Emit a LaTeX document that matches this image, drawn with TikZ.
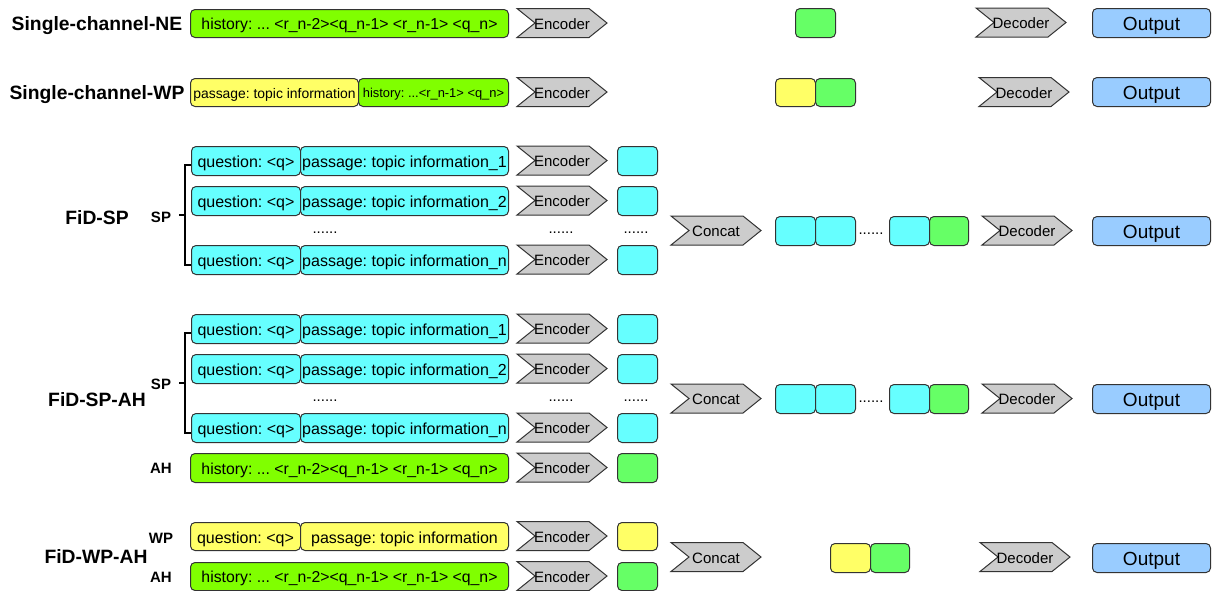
\documentclass[tikz,border=0pt]{standalone}
\usepackage{fontspec}
\setmainfont{Liberation Sans}
\frenchspacing
\definecolor{strk}{HTML}{333333}
\definecolor{gbarc}{HTML}{80FF00}
\definecolor{gsqc}{HTML}{66FF66}
\definecolor{cyanc}{HTML}{66FFFF}
\definecolor{yelc}{HTML}{FFFF66}
\definecolor{greyc}{HTML}{CCCCCC}
\definecolor{bluec}{HTML}{99CCFF}
\newcommand\fs[1]{\fontsize{#1}{#1}\selectfont}
\newcommand\bx[7]{\node[bx,#2,minimum width=#5pt,minimum height=#6pt] (#1) at (#3,#4) {#7};}
\newcommand\chev[4]{%
  \draw[chv] (#2,#3-14.5) -- (#2+72,#3-14.5) -- (#2+90,#3) -- (#2+72,#3+14.5) -- (#2,#3+14.5) -- (#2+18,#3) -- cycle;
  \node[chvt] (#1) at (#2+45,#3) {#4};}
\begin{document}
\begin{tikzpicture}[x=1pt,y=-1pt,
  tf/.style={font=\fs{#1}, text height={#1pt}, text depth={0.18*#1pt}},
  tb/.style={font=\bfseries\fs{#1}, text height={#1pt}, text depth={0.18*#1pt}},
  bx/.style={draw=strk, line width=1pt, rounded corners=4.5pt, inner sep=0pt, anchor=north west},
  gbar/.style={fill=gbarc, tf=15.8},
  gsq/.style={fill=gsqc},
  cy/.style={fill=cyanc, tf=16},
  yel/.style={fill=yelc, tf=16},
  outb/.style={fill=bluec, tf=19},
  chv/.style={draw=strk, fill=greyc, line width=1pt},
  chvt/.style={tf=15, inner sep=0pt},
  lab/.style={tb=19.3, inner sep=0pt},
  sub/.style={tb=15, inner sep=0pt},
  dots/.style={font=\fs{15}, inner sep=0pt},
  brk/.style={draw=black, line width=1.3pt}]
\useasboundingbox (0,0) rectangle (1212,590);

% ---------- Single-channel-NE ----------
\node[lab] (ne-lab) at (97,23) {Single-channel-NE};
\bx{ne-hist}{gbar}{190}{9}{318}{28}{history: ... <r\_n-2><q\_n-1> <r\_n-1> <q\_n>}
\chev{ne-enc}{517}{23}{Encoder}
\bx{ne-sq}{gsq}{795}{8}{40}{29}{}
\chev{ne-dec}{976}{22.5}{Decoder}
\bx{ne-out}{outb}{1092}{8}{118}{29}{Output}

% ---------- Single-channel-WP ----------
\node[lab] (wp-lab) at (97,92) {Single-channel-WP};
\bx{wp-pas}{yel,tf=13.9}{190}{78}{168}{28}{passage: topic information}
\bx{wp-hist}{gbar,tf=12.9}{358}{78}{150}{28}{history: ...<r\_n-1> <q\_n>}
\chev{wp-enc}{517}{92}{Encoder}
\bx{wp-sq1}{yel}{775}{78}{40}{28}{}
\bx{wp-sq2}{gsq}{815}{78}{40}{28}{}
\chev{wp-dec}{979}{92}{Decoder}
\bx{wp-out}{outb}{1092}{77}{118}{29}{Output}

% ---------- FiD-SP ----------
\node[lab] (sp-lab) at (97,217) {FiD-SP};
\node[sub] (sp-sp) at (161,216) {SP};
\draw[brk] (192,165) -- (185,165) -- (185,265) -- (192,265);
\draw[brk] (179,215) -- (185,215);
\bx{sp-q1}{cy}{191}{146}{109}{29}{question: <q>}
\bx{sp-p1}{cy}{300}{146}{208}{29}{passage: topic information\_1}
\bx{sp-q2}{cy}{191}{186}{109}{29}{question: <q>}
\bx{sp-p2}{cy}{300}{186}{208}{29}{passage: topic information\_2}
\bx{sp-qn}{cy}{191}{245}{109}{29}{question: <q>}
\bx{sp-pn}{cy}{300}{245}{208}{29}{passage: topic information\_n}
\node[dots] (sp-d1) at (325,233) {......};
\node[dots] (sp-d2) at (561,233) {......};
\node[dots] (sp-d3) at (636,233) {......};
\chev{sp-e1}{517}{160.5}{Encoder}
\chev{sp-e2}{517}{200.5}{Encoder}
\chev{sp-en}{517}{259.5}{Encoder}
\bx{sp-s1}{cy}{617}{146}{40}{29}{}
\bx{sp-s2}{cy}{617}{186}{40}{29}{}
\bx{sp-sn}{cy}{617}{245}{40}{29}{}
\chev{sp-cat}{671}{230.5}{Concat}
\bx{sp-c1}{cy}{775}{216}{40}{29}{}
\bx{sp-c2}{cy}{815}{216}{40}{29}{}
\node[dots] (sp-d4) at (871,234) {......};
\bx{sp-c3}{cy}{889}{216}{40}{29}{}
\bx{sp-c4}{gsq}{929}{216}{39}{29}{}
\chev{sp-dec}{982}{230.5}{Decoder}
\bx{sp-out}{outb}{1092}{216}{118}{29}{Output}

% ---------- FiD-SP-AH ----------
\node[lab] (sa-lab) at (97,399) {FiD-SP-AH};
\node[sub] (sa-sp) at (161,383) {SP};
\node[sub] (sa-ah) at (161,467) {AH};
\draw[brk] (192,333) -- (185,333) -- (185,433) -- (192,433);
\draw[brk] (179,383) -- (185,383);
\bx{sa-q1}{cy}{191}{314}{109}{29}{question: <q>}
\bx{sa-p1}{cy}{300}{314}{208}{29}{passage: topic information\_1}
\bx{sa-q2}{cy}{191}{354}{109}{29}{question: <q>}
\bx{sa-p2}{cy}{300}{354}{208}{29}{passage: topic information\_2}
\bx{sa-qn}{cy}{191}{413}{109}{29}{question: <q>}
\bx{sa-pn}{cy}{300}{413}{208}{29}{passage: topic information\_n}
\bx{sa-hist}{gbar}{190}{453}{318}{29}{history: ... <r\_n-2><q\_n-1> <r\_n-1> <q\_n>}
\node[dots] (sa-d1) at (325,401) {......};
\node[dots] (sa-d2) at (561,401) {......};
\node[dots] (sa-d3) at (636,401) {......};
\chev{sa-e1}{517}{328.5}{Encoder}
\chev{sa-e2}{517}{368.5}{Encoder}
\chev{sa-en}{517}{427.5}{Encoder}
\chev{sa-eh}{517}{467.5}{Encoder}
\bx{sa-s1}{cy}{617}{314}{40}{29}{}
\bx{sa-s2}{cy}{617}{354}{40}{29}{}
\bx{sa-sn}{cy}{617}{413}{40}{29}{}
\bx{sa-sh}{gsq}{617}{453}{40}{29}{}
\chev{sa-cat}{671}{398.5}{Concat}
\bx{sa-c1}{cy}{775}{384}{40}{29}{}
\bx{sa-c2}{cy}{815}{384}{40}{29}{}
\node[dots] (sa-d4) at (871,402) {......};
\bx{sa-c3}{cy}{889}{384}{40}{29}{}
\bx{sa-c4}{gsq}{929}{384}{39}{29}{}
\chev{sa-dec}{982}{398.5}{Decoder}
\bx{sa-out}{outb}{1092}{384}{118}{29}{Output}

% ---------- FiD-WP-AH ----------
\node[lab] (wa-lab) at (96,556) {FiD-WP-AH};
\node[sub] (wa-wp) at (161,537) {WP};
\node[sub] (wa-ah) at (161,576) {AH};
\bx{wa-q}{yel}{190}{522}{110}{28}{question: <q>}
\bx{wa-p}{yel}{300}{522}{208}{28}{passage: topic information}
\bx{wa-hist}{gbar}{190}{562}{318}{28}{history: ... <r\_n-2><q\_n-1> <r\_n-1> <q\_n>}
\chev{wa-e1}{517}{536}{Encoder}
\chev{wa-e2}{517}{576}{Encoder}
\bx{wa-s1}{yel}{617}{522}{40}{28}{}
\bx{wa-s2}{gsq}{617}{562}{40}{28}{}
\chev{wa-cat}{671}{557}{Concat}
\bx{wa-c1}{yel}{830}{543}{40}{29}{}
\bx{wa-c2}{gsq}{870}{543}{39}{29}{}
\chev{wa-dec}{980}{557}{Decoder}
\bx{wa-out}{outb}{1092}{543}{118}{29}{Output}
\end{tikzpicture}
\end{document}
